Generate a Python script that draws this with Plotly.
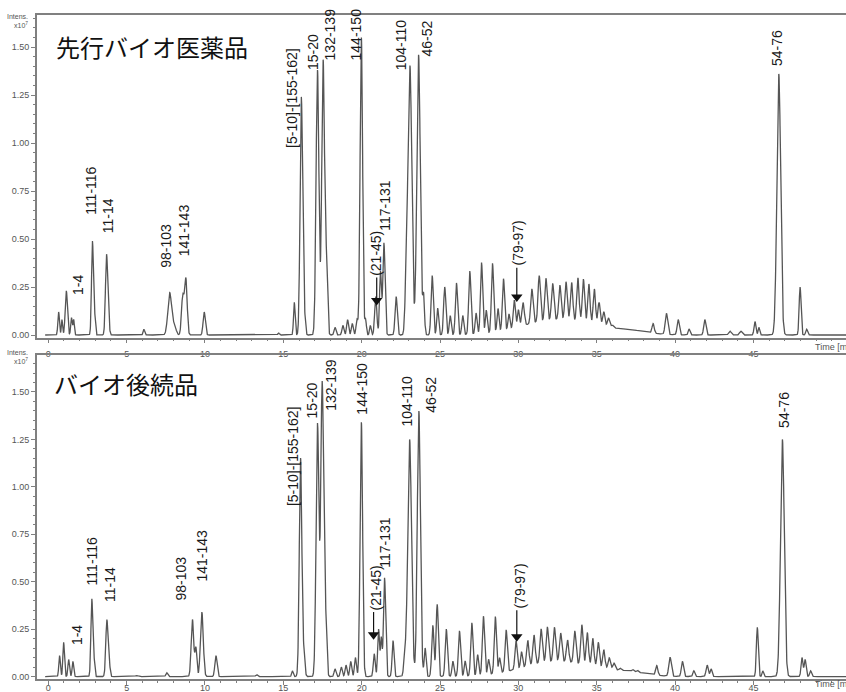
import numpy as np
import plotly.graph_objects as go

# ---------------- data ----------------
# peak tables: retention time [min], height [x10^7], width (sigma, min)
top_rt = [0.66, 0.87, 1.15, 1.48, 1.62, 2.82, 2.97, 3.72, 3.86, 6.1, 7.75, 8.05, 8.58, 8.78, 9.95,
          14.7, 15.7, 16.15, 16.35, 17.18, 17.54, 17.75, 18.3, 18.8, 19.1, 19.4, 19.7, 19.98,
          20.25, 20.55, 20.9, 21.2, 21.42, 22.2, 22.85, 23.08, 23.63, 23.95, 24.5, 24.85, 25.3,
          25.65, 26.05, 26.45, 26.9, 27.3, 27.65, 27.95, 28.35, 28.7, 29.05, 29.4, 29.74, 30.0,
          30.3, 30.86, 31.33, 31.76, 32.19, 32.65, 33.04, 33.4, 33.8, 34.15, 34.5, 34.85, 35.15,
          35.45, 35.75, 36.0, 38.6, 39.45, 40.2, 40.9, 41.9, 43.5, 44.2, 45.1, 45.35, 46.62,
          47.98, 48.4, 32.5, 37.0]
top_h = [0.12, 0.08, 0.23, 0.09, 0.08, 0.49, 0.09, 0.42, 0.06, 0.03, 0.22, 0.05, 0.2, 0.29, 0.12,
         0.01, 0.17, 1.24, 0.1, 1.38, 1.43, 0.35, 0.04, 0.05, 0.08, 0.06, 0.08, 1.55,
         0.08, 0.05, 0.2, 0.33, 0.48, 0.2, 0.25, 1.4, 1.46, 0.2, 0.31, 0.14, 0.25,
         0.1, 0.27, 0.1, 0.33, 0.11, 0.37, 0.12, 0.36, 0.12, 0.27, 0.08, 0.145, 0.09,
         0.12, 0.18, 0.24, 0.22, 0.19, 0.18, 0.2, 0.2, 0.23, 0.23, 0.21, 0.19, 0.125,
         0.08, 0.05, 0.015, 0.05, 0.11, 0.08, 0.03, 0.08, 0.02, 0.02, 0.07, 0.04, 1.36,
         0.25, 0.03, 0.08, 0.02]
top_w = [0.05, 0.04, 0.07, 0.05, 0.04, 0.06, 0.04, 0.07, 0.05, 0.05, 0.12, 0.1, 0.08, 0.08, 0.07,
         0.05, 0.05, 0.08, 0.06, 0.09, 0.09, 0.07, 0.06, 0.06, 0.06, 0.06, 0.06, 0.08,
         0.05, 0.05, 0.07, 0.06, 0.07, 0.07, 0.08, 0.12, 0.11, 0.06, 0.07, 0.06, 0.07,
         0.06, 0.07, 0.06, 0.07, 0.06, 0.07, 0.06, 0.07, 0.06, 0.07, 0.06, 0.07, 0.06,
         0.08, 0.075, 0.075, 0.075, 0.075, 0.075, 0.075, 0.075, 0.075, 0.075, 0.075, 0.075, 0.075,
         0.075, 0.075, 0.075, 0.07, 0.08, 0.07, 0.06, 0.07, 0.08, 0.08, 0.06, 0.05, 0.12,
         0.06, 0.06, 2.2, 1.2]

bot_rt = [0.72, 0.98, 1.3, 1.57, 2.78, 2.93, 3.74, 3.9, 5.65, 7.56, 9.2, 9.42, 9.8, 10.7, 13.3,
          15.58, 16.1, 16.3, 17.18, 17.48, 17.7, 18.3, 18.7, 19.0, 19.3, 19.6, 19.98, 20.8,
          21.08, 21.25, 21.46, 22.0, 22.75, 23.06, 23.65, 24.05, 24.54, 24.82, 25.4, 25.82,
          26.24, 26.6, 27.03, 27.4, 27.77, 28.1, 28.53, 28.8, 29.22, 29.85, 30.2, 30.6, 31.0,
          31.45, 31.85, 32.3, 32.7, 33.14, 33.6, 34.05, 34.4, 34.75, 35.1, 35.45, 35.8, 36.1,
          36.5, 37.3, 37.6, 38.83, 39.68, 40.47, 41.2, 42.05, 42.3, 45.25, 45.6, 46.85, 48.1,
          48.3, 48.65, 32.5, 37.0]
bot_h = [0.11, 0.18, 0.09, 0.08, 0.41, 0.08, 0.3, 0.06, 0.005, 0.02, 0.3, 0.15, 0.34, 0.11, 0.01,
         0.03, 1.15, 0.12, 1.33, 1.55, 0.3, 0.04, 0.05, 0.06, 0.08, 0.1, 1.34, 0.12,
         0.25, 0.2, 0.52, 0.19, 0.1, 1.25, 1.4, 0.15, 0.27, 0.38, 0.25, 0.08,
         0.24, 0.08, 0.28, 0.11, 0.31, 0.08, 0.3, 0.08, 0.22, 0.15, 0.085, 0.135, 0.155,
         0.18, 0.185, 0.18, 0.15, 0.115, 0.17, 0.21, 0.175, 0.15, 0.135, 0.1, 0.06, 0.035,
         0.01, 0.01, 0.01, 0.05, 0.1, 0.08, 0.03, 0.06, 0.04, 0.26, 0.03, 1.25, 0.1,
         0.09, 0.03, 0.08, 0.02]
bot_w = [0.05, 0.05, 0.05, 0.05, 0.06, 0.04, 0.07, 0.05, 0.1, 0.06, 0.08, 0.06, 0.09, 0.07, 0.06,
         0.05, 0.08, 0.07, 0.09, 0.09, 0.07, 0.06, 0.06, 0.06, 0.06, 0.06, 0.08, 0.06,
         0.06, 0.05, 0.07, 0.06, 0.07, 0.12, 0.1, 0.06, 0.07, 0.07, 0.07, 0.06,
         0.07, 0.06, 0.07, 0.06, 0.07, 0.06, 0.07, 0.06, 0.07, 0.07, 0.06, 0.075, 0.075,
         0.075, 0.075, 0.075, 0.075, 0.075, 0.075, 0.075, 0.075, 0.075, 0.075, 0.075, 0.075, 0.075,
         0.06, 0.06, 0.06, 0.07, 0.08, 0.07, 0.06, 0.07, 0.06, 0.06, 0.05, 0.12, 0.06,
         0.06, 0.06, 2.2, 1.2]

# peak labels: text, time, height of label base
top_lbl = ["1-4", "111-116", "11-14", "98-103", "141-143", "[5-10]-[155-162]", "15-20",
           "132-139", "144-150", "(21-45)", "117-131", "104-110", "46-52", "(79-97)", "54-76"]
top_lbl_t = [1.9, 2.72, 3.78, 7.51, 8.66, 15.55, 16.89, 17.98, 19.64, 20.91, 21.49, 22.5,
             24.17, 29.97, 46.5]
top_lbl_y = [0.198, 0.615, 0.52, 0.34, 0.40, 0.964, 1.37, 1.42, 1.42, 0.30, 0.53, 1.37,
             1.44, 0.354, 1.39]

bot_lbl = top_lbl
bot_lbl_t = [1.83, 2.79, 3.94, 8.47, 9.81, 15.58, 16.83, 18.04, 20.02, 20.91, 21.49, 22.89,
             24.42, 30.1, 46.95]
bot_lbl_y = [0.155, 0.47, 0.38, 0.39, 0.49, 0.89, 1.35, 1.39, 1.37, 0.34, 0.56, 1.31,
             1.38, 0.35, 1.30]

# arrows: time, tip height, tail height
top_arr_t = [20.96, 29.9]
top_arr_tip = [0.18, 0.198]
top_arr_tail = [0.30, 0.35]
bot_arr_t = [20.76, 29.9]
bot_arr_tip = [0.22, 0.21]
bot_arr_tail = [0.34, 0.35]

x_ticks = [0, 5, 10, 15, 20, 25, 30, 35, 40, 45]
y_ticks = [0.0, 0.25, 0.5, 0.75, 1.0, 1.25, 1.5]

titles = ["先行バイオ医薬品", "バイオ後続品"]

# ---------------- build ----------------
t = np.arange(-0.2, 50.95, 0.01)


def chrom(rt, h, w):
    y = np.zeros_like(t)
    for r, a, s in zip(rt, h, w):
        y += a * np.exp(-0.5 * ((t - r) / s) ** 2)
    return y


W, H = 846, 692
ML, MR, MT, MB = 37, 0, 15, 13
PW, PH = W - ML - MR, H - MT - MB


def px(xp):
    return (xp - ML) / PW


def py(yp):
    return (H - MB - yp) / PH


fig = go.Figure()
fig.add_trace(go.Scatter(x=t, y=chrom(top_rt, top_h, top_w), mode="lines",
                         line=dict(color="#555555", width=1.3), xaxis="x", yaxis="y",
                         showlegend=False, hoverinfo="skip"))
fig.add_trace(go.Scatter(x=t, y=chrom(bot_rt, bot_h, bot_w), mode="lines",
                         line=dict(color="#555555", width=1.3), xaxis="x2", yaxis="y2",
                         showlegend=False, hoverinfo="skip"))

# arrows (shaft + triangle head)
for ts, tips, tails, xa, ya in [(top_arr_t, top_arr_tip, top_arr_tail, "x", "y"),
                                (bot_arr_t, bot_arr_tip, bot_arr_tail, "x2", "y2")]:
    for tt, tip, tail in zip(ts, tips, tails):
        fig.add_trace(go.Scatter(x=[tt, tt], y=[tail, tip], mode="lines",
                                 line=dict(color="#111111", width=1.2), xaxis=xa, yaxis=ya,
                                 showlegend=False, hoverinfo="skip"))
        fig.add_trace(go.Scatter(x=[tt], y=[tip], mode="markers",
                                 marker=dict(symbol="triangle-down", size=10, color="#111111",
                                             line=dict(width=0)),
                                 xaxis=xa, yaxis=ya, showlegend=False, hoverinfo="skip"))

axcol = "#808080"
tickfont = dict(family="Liberation Sans", size=9, color="#555555")
xcommon = dict(range=[-0.721, 50.91], showgrid=False, zeroline=False, showline=True,
               linecolor=axcol, linewidth=1.6, mirror=True, ticks="outside", ticklen=4,
               tickcolor=axcol, tickwidth=1, tickmode="array", tickvals=x_ticks,
               tickfont=tickfont, automargin=False,
               minor=dict(tickmode="array", tickvals=list(range(0, 51)), ticks="outside",
                          ticklen=2, tickcolor=axcol, showgrid=False))
ycommon = dict(showgrid=False, zeroline=False, showline=True, linecolor=axcol, linewidth=1.6,
               ticks="outside", ticklen=4, tickcolor=axcol, tickwidth=1, tickmode="array",
               tickvals=y_ticks, tickformat=".2f", tickfont=tickfont, automargin=False,
               minor=dict(tickmode="array", tickvals=[round(0.05 * i, 2) for i in range(0, 34)],
                          ticks="outside", ticklen=2, tickcolor=axcol, showgrid=False))

top_dom = [py(337.5), 1.0]
bot_dom = [0.0, py(355)]

fig.update_layout(
    width=W, height=H, margin=dict(l=ML, r=MR, t=MT, b=MB, autoexpand=False),
    paper_bgcolor="white", plot_bgcolor="white",
    xaxis=dict(domain=[0, 1], anchor="y", ticklabelstandoff=3, **xcommon),
    yaxis=dict(domain=top_dom, anchor="x", range=[-0.013, 1.667], **ycommon),
    xaxis2=dict(domain=[0, 1], anchor="y2", ticklabelstandoff=-5, **xcommon),
    yaxis2=dict(domain=bot_dom, anchor="x2", range=[-0.013, 1.695], **ycommon),
)

ann = []
lblfont = dict(family="Liberation Sans", size=14, color="#1a1a1a")
for txts, ts, ys, xr, yr in [(top_lbl, top_lbl_t, top_lbl_y, "x", "y"),
                             (bot_lbl, bot_lbl_t, bot_lbl_y, "x2", "y2")]:
    for s, tt, yy in zip(txts, ts, ys):
        ann.append(dict(text=s, x=tt, y=yy, xref=xr, yref=yr, showarrow=False,
                        textangle=-90, xanchor="center", yanchor="bottom", font=lblfont))

titlefont = dict(family="Noto Sans CJK JP", size=24, color="#111111")
ann.append(dict(text=titles[0], x=px(54), y=py(46), xref="paper", yref="paper",
                showarrow=False, xanchor="left", yanchor="middle", font=titlefont))
ann.append(dict(text=titles[1], x=px(52), y=py(383), xref="paper", yref="paper",
                showarrow=False, xanchor="left", yanchor="middle", font=titlefont))

smallfont = dict(family="Liberation Sans", size=7, color="#555555")
for ytop in [11, 347]:
    ann.append(dict(text="Intens.<br>x10<sup>7</sup>", x=px(30), y=py(ytop), xref="paper",
                    yref="paper", showarrow=False, xanchor="right", yanchor="top",
                    align="right", font=smallfont))
for yc in [347, 684]:
    ann.append(dict(text="Time [min]", x=px(813), y=py(yc), xref="paper", yref="paper",
                    showarrow=False, xanchor="left", yanchor="middle",
                    font=dict(family="Liberation Sans", size=9, color="#555555")))

fig.update_layout(annotations=ann)
fig.write_html("out.html", config={"displayModeBar": False},
               post_script="document.body.style.margin='0';document.body.style.padding='0';")
